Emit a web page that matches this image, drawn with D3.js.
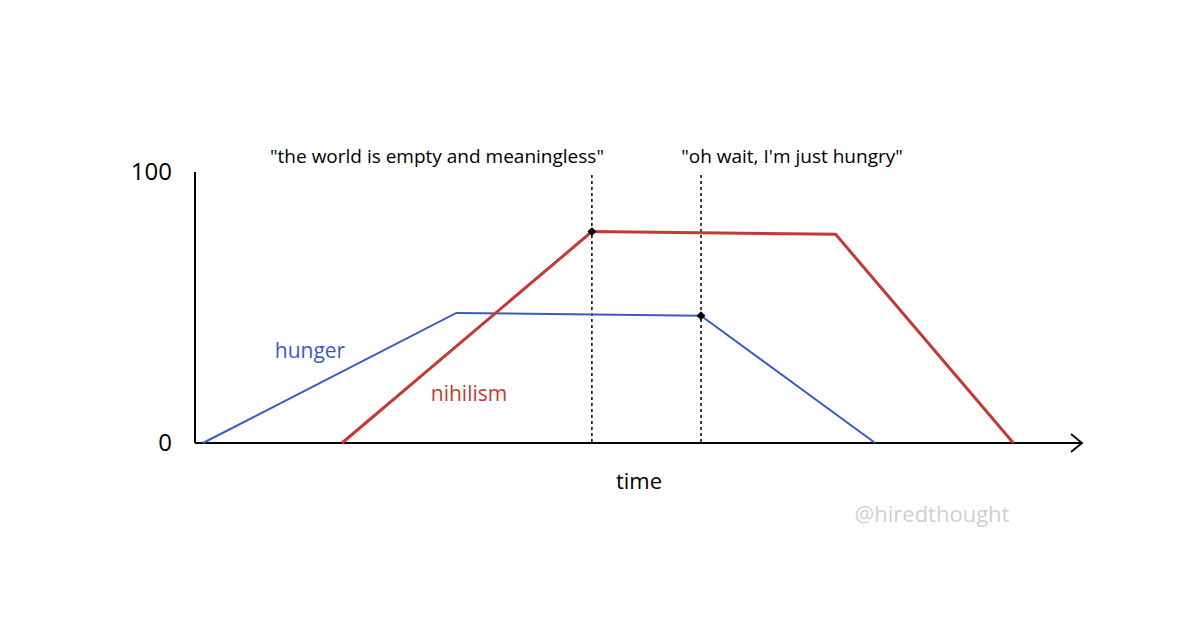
<!DOCTYPE html>
<html><head><meta charset="utf-8">
<script src="https://cdn.jsdelivr.net/npm/d3@7"></script>
<style>body{margin:0;background:#fff}text{font-family:"Open Sans",sans-serif}</style>
</head><body><svg id="c" width="1200" height="635"></svg>
<script>
const hungerT = [0.9, 29.7, 57.5, 77.3];
const hungerV = [0, 48, 47, 0];
const nihilismT = [16.7, 45.1, 72.8, 93.0];
const nihilismV = [0, 78, 77, 0];
const markerT = [45.1, 57.5];
const markerV = [78, 47];
const annotations = ['"the world is empty and meaningless"', '"oh wait, I\'m just hungry"'];
const yTicks = [0, 100];

const svg = d3.select("#c");
const x = d3.scaleLinear().domain([0, 100]).range([195, 1075]);
const y = d3.scaleLinear().domain([0, 100]).range([443, 172]);

svg.append("line").attr("x1", x(0)).attr("x2", x(0)).attr("y1", y(100)).attr("y2", y(0)).attr("stroke", "#000").attr("stroke-width", 2);
svg.append("line").attr("x1", x(0)).attr("x2", x(100)+6).attr("y1", y(0)).attr("y2", y(0)).attr("stroke", "#000").attr("stroke-width", 2);
svg.append("path").attr("d", `M${x(100)-4},${y(0)-9} L${x(100)+7},${y(0)} L${x(100)-4},${y(0)+9}`).attr("fill", "none").attr("stroke", "#000").attr("stroke-width", 1.8);
svg.selectAll(".yt").data(yTicks).join("text").attr("x", 172).attr("y", d => y(d) + 8).attr("text-anchor", "end").attr("font-size", 24).text(d => d);

svg.selectAll(".vl").data(markerT).join("line").attr("x1", d => x(d)).attr("x2", d => x(d)).attr("y1", 175).attr("y2", y(0))
  .attr("stroke", "#000").attr("stroke-width", 1.5).attr("stroke-dasharray", "3,3");

const line = d3.line().x(d => x(d[0])).y(d => y(d[1]));
svg.append("path").datum(hungerT.map((t, i) => [t, hungerV[i]])).attr("d", line).attr("fill", "none").attr("stroke", "#3b5bc2").attr("stroke-width", 2);
svg.append("path").datum(nihilismT.map((t, i) => [t, nihilismV[i]])).attr("d", line).attr("fill", "none").attr("stroke", "#c23b33").attr("stroke-width", 3);

svg.selectAll(".mk").data(markerT).join("path").attr("d", d3.symbol(d3.symbolSquare, 40))
  .attr("transform", (d, i) => `translate(${x(d)},${y(markerV[i])}) rotate(45)`).attr("fill", "#000");

svg.selectAll(".an").data(annotations).join("text").attr("x", (d, i) => [437, 792][i]).attr("y", 163)
  .attr("text-anchor", "middle").attr("font-size", 19).text(d => d);

svg.append("text").attr("x", 310).attr("y", 358).attr("text-anchor", "middle").attr("font-size", 21).attr("fill", "#3b5bc2").text("hunger");
svg.append("text").attr("x", 469).attr("y", 401).attr("text-anchor", "middle").attr("font-size", 21).attr("fill", "#c23b33").text("nihilism");
svg.append("text").attr("x", 639).attr("y", 489).attr("text-anchor", "middle").attr("font-size", 22).text("time");
svg.append("text").attr("x", 932).attr("y", 522).attr("text-anchor", "middle").attr("font-size", 22).attr("fill", "#cfcfcf").text("@hiredthought");
</script></body></html>
